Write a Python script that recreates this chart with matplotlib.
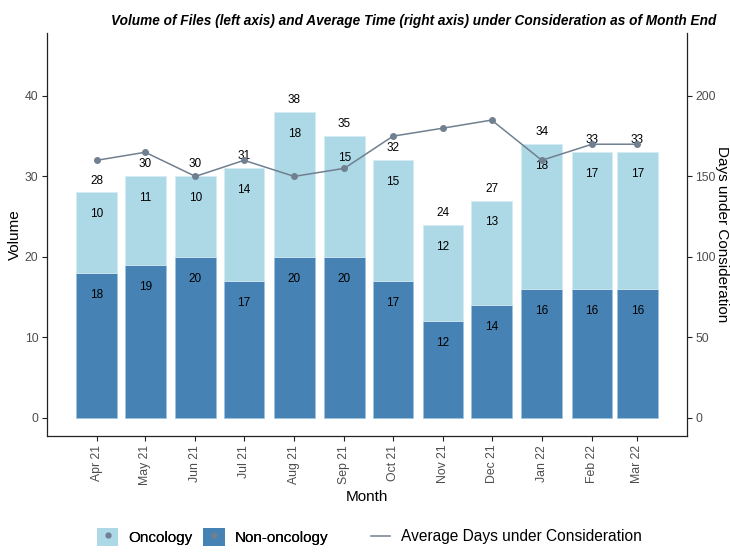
import datetime as dt
import numpy as np
import matplotlib
matplotlib.use('Agg')
from matplotlib import pyplot as plt
import matplotlib.dates as mdates
from matplotlib.patches import Patch
from matplotlib.lines import Line2D
from matplotlib.transforms import ScaledTranslation

plt.rcParams['font.family'] = ['Liberation Sans', 'DejaVu Sans']

# data
months = [dt.date(2021, m, 1) for m in range(4, 13)] + [dt.date(2022, m, 1) for m in range(1, 4)]
month_labels = ['Apr 21', 'May 21', 'Jun 21', 'Jul 21', 'Aug 21', 'Sep 21',
                'Oct 21', 'Nov 21', 'Dec 21', 'Jan 22', 'Feb 22', 'Mar 22']
non_oncology = [18, 19, 20, 17, 20, 20, 17, 12, 14, 16, 16, 16]
oncology = [10, 11, 10, 14, 18, 15, 15, 12, 13, 18, 17, 17]
avg_days = [160, 165, 150, 160, 150, 155, 175, 180, 185, 160, 170, 170]

DARK = '#4682B4'
LIGHT = '#ADD8E6'
LINE = '#708090'
AXCOL = '#222222'
TICKTXT = '#4d4d4d'

x = mdates.date2num(months)
totals = [a + b for a, b in zip(non_oncology, oncology)]

fig = plt.figure(figsize=(7.3, 5.57), dpi=100)
ax = fig.add_axes([0.0648, 0.2172, 0.8759, 0.7243])

ax.bar(x, non_oncology, width=25.2, color=DARK, edgecolor='#9cc3dd', linewidth=0.5)
ax.bar(x, oncology, width=25.2, bottom=non_oncology, color=LIGHT, edgecolor='#d6ecf3', linewidth=0.5)

for xi, n, t in zip(x, non_oncology, totals):
    ax.annotate(str(n), (xi, n), xytext=(0, -15.8), textcoords='offset points',
                ha='center', va='center', fontsize=8.5, color='black')
    ax.annotate(str(t - n), (xi, t), xytext=(0, -15.8), textcoords='offset points',
                ha='center', va='center', fontsize=8.5, color='black')
    ax.annotate(str(t), (xi, t), xytext=(0, 8.6), textcoords='offset points',
                ha='center', va='center', fontsize=8.5, color='black')

ymax = max(totals) * 1.2
ax.set_ylim(-0.05 * ymax, ymax * 1.05)
ax.set_xlim(x[0] - 30.5, x[-1] + 30.5)
ax.set_yticks([0, 10, 20, 30, 40])
ax.set_xticks(x)
ax.set_xticklabels(month_labels, rotation=90, ha='center', va='top')
for lab in ax.get_xticklabels():
    lab.set_transform(lab.get_transform() + ScaledTranslation(5 / 100, 0, fig.dpi_scale_trans))

ax2 = ax.twinx()
ax2.plot(x, avg_days, color=LINE, linewidth=1.1, marker='o', markersize=4)
ax2.set_ylim(-0.05 * ymax * 5, ymax * 1.05 * 5)
ax2.set_yticks([0, 50, 100, 150, 200])

for a in (ax, ax2):
    a.spines['top'].set_visible(False)
    for s in a.spines.values():
        s.set_color(AXCOL)
        s.set_linewidth(0.9)
    a.tick_params(colors=AXCOL, labelcolor=TICKTXT, labelsize=8.8, length=3.8, width=0.8, pad=2.5)
ax.spines['right'].set_visible(False)
ax2.spines['left'].set_visible(False)
ax2.spines['bottom'].set_visible(False)
ax.patch.set_visible(False)

ax.set_ylabel('Volume', fontsize=11, labelpad=2.5)
ax.set_xlabel('Month', fontsize=11, labelpad=4)
fig.text(722 / 730, 0.2172 + 0.7243 / 2, 'Days under Consideration', fontsize=11,
         rotation=-90, ha='center', va='center')

fig.text(0.567, 0.963, 'Volume of Files (left axis) and Average Time (right axis) under Consideration as of Month End',
         ha='center', va='center', fontsize=9.8, fontweight='bold', fontstyle='italic')

dot = Line2D([], [], color=LINE, marker='o', linestyle='none', markersize=3.5)
h_onc = (Patch(facecolor=LIGHT, edgecolor='none'), dot)
h_non = (Patch(facecolor=DARK, edgecolor='none'), dot)
leg1 = fig.legend([h_onc, h_non], ['Oncology', 'Non-oncology'], loc='center left',
                  bbox_to_anchor=(0.133, 0.036), ncol=2, frameon=False, fontsize=11,
                  handlelength=1.4, handleheight=1.4, handletextpad=0.65,
                  columnspacing=0.7, borderpad=0, borderaxespad=0)
fig.add_artist(leg1)
fig.legend([Line2D([], [], color=LINE, linewidth=1.1)], ['Average Days under Consideration'],
           loc='center left', bbox_to_anchor=(0.508, 0.036), frameon=False, fontsize=11.2,
           handlelength=1.2, handletextpad=0.75, borderpad=0, borderaxespad=0)

fig.savefig('out.png', dpi=100)
